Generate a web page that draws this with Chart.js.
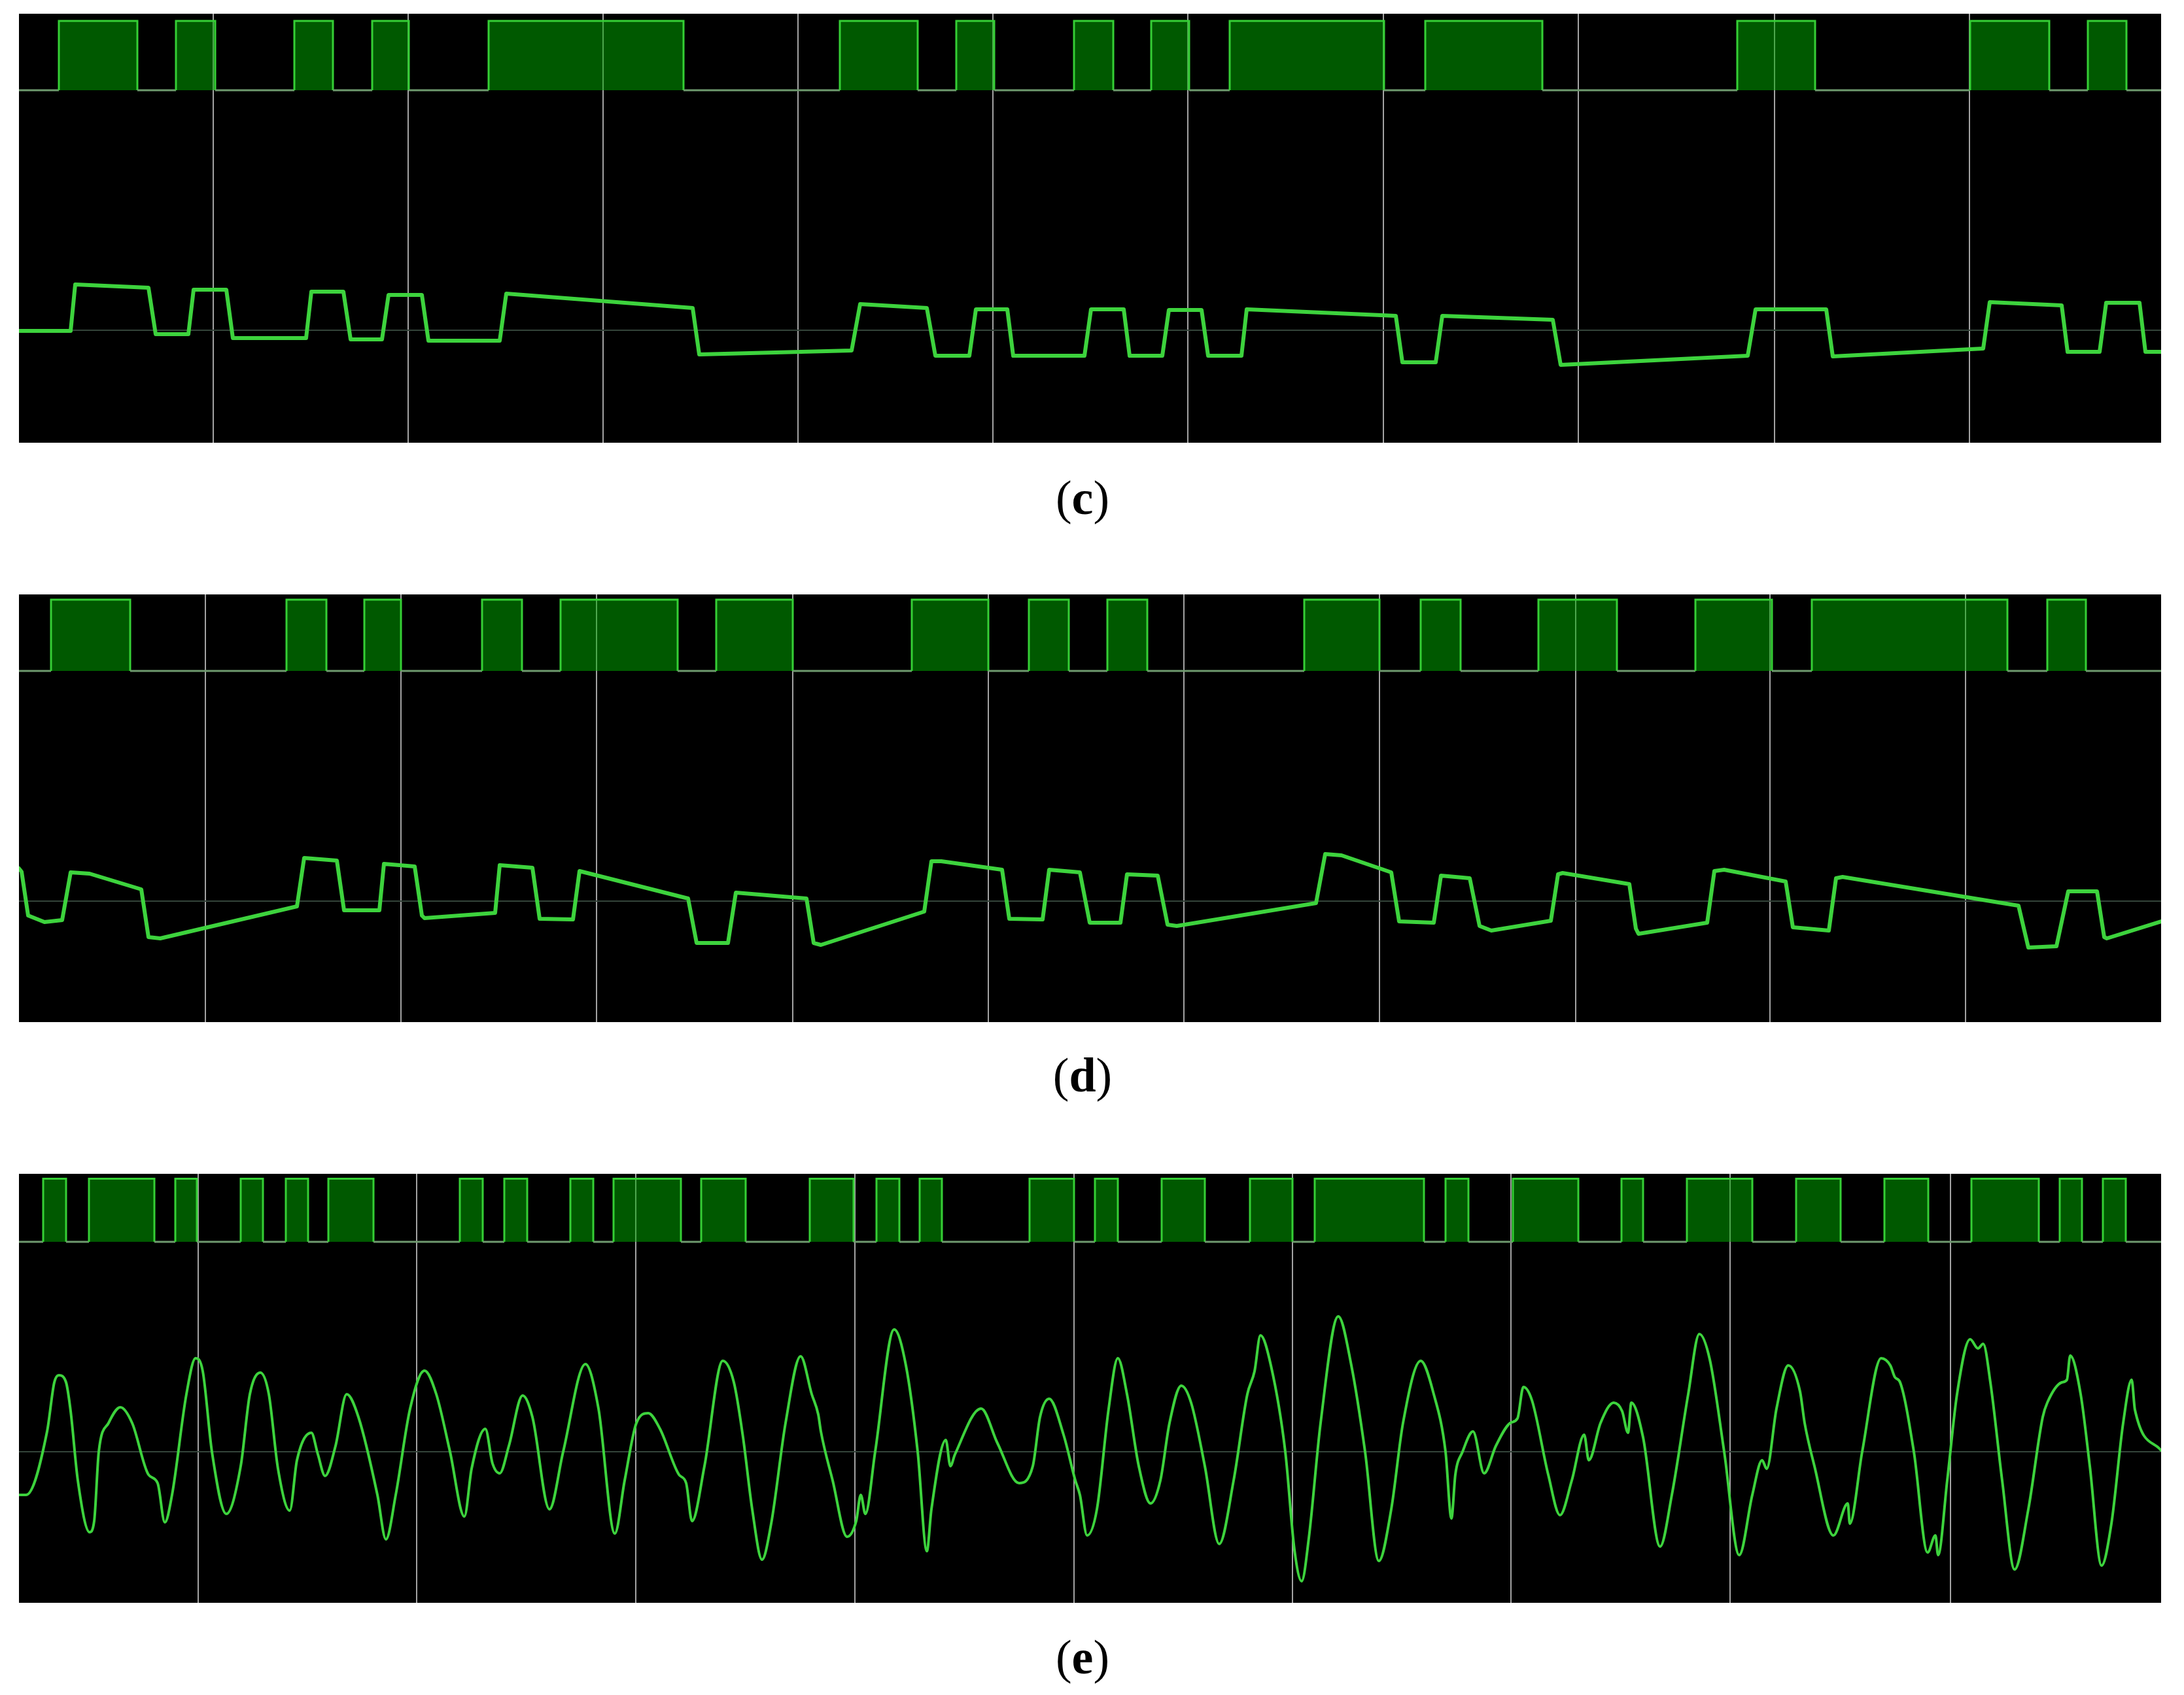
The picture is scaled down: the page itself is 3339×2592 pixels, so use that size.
<!DOCTYPE html>
<html>
<head>
<meta charset="utf-8">
<title>Scope traces (c)-(e)</title>
<script src="https://cdn.jsdelivr.net/npm/chart.js@4.4.1/dist/chart.umd.min.js"></script>
<style>
    html, body { margin: 0; padding: 0; background: #fff; }
    body { width: 3339px; height: 2592px; position: relative; overflow: hidden; }
    .panel { position: absolute; left: 29px; width: 3275px; background: #000; }
    .panel canvas { display: block; }
    .label {
        position: absolute; left: 1655px; transform: translateX(-50%);
        font-family: "Liberation Serif", "Times New Roman", serif;
        font-size: 74px; line-height: 74px; color: #000; white-space: nowrap;
    }
</style>
</head>
<body>
<div class="panel" style="top:21px;height:656px"><canvas id="chartC" width="3275" height="656"></canvas></div>
<div class="label" style="top:724px">(<b>c</b>)</div>
<div class="panel" style="top:909px;height:654px"><canvas id="chartD" width="3275" height="654"></canvas></div>
<div class="label" style="top:1607px">(<b>d</b>)</div>
<div class="panel" style="top:1795px;height:656px"><canvas id="chartE" width="3275" height="656"></canvas></div>
<div class="label" style="top:2497px">(<b>e</b>)</div>

<script>
// Time axis in samples (0..3275 across the screen), analog in counts from the centre line

// ---- panel (c)
const cGrid = [297, 595, 893, 1191, 1489, 1787, 2086, 2384, 2684, 2982];
const cRise = [61, 240, 421, 540, 718, 1255, 1433, 1613, 1731, 1851, 2150, 2627, 2983, 3163];
const cFall = [181, 300, 480, 596, 1016, 1374, 1491, 1673, 1789, 2087, 2329, 2746, 3104, 3222];
const cTraceT = [0, 79, 86, 198, 209, 259, 267, 317, 327, 439, 447, 496, 507, 555, 565, 616, 626, 735, 745, 1030,
    1040, 1273, 1286, 1388, 1401, 1453, 1463, 1511, 1520, 1629, 1639, 1689, 1698, 1748, 1758, 1808, 1818, 1869, 1877, 2105,
    2115, 2166, 2176, 2345, 2357, 2643, 2655, 2763, 2773, 3003, 3013, 3123, 3132, 3181, 3191, 3242, 3251, 3275];
const cTraceV = [-1, -1, 70, 65, -6, -6, 62, 62, -12, -12, 59, 59, -14, -14, 54, 54, -16, -16, 56, 34,
    -37, -31, 40, 34, -39, -39, 32, 32, -39, -39, 32, 32, -39, -39, 31, 31, -39, -39, 32, 22,
    -49, -49, 22, 16, -53, -39, 32, 32, -40, -28, 43, 38, -33, -33, 42, 42, -33, -33];

// ---- panel (d)
const dGrid = [285, 584, 883, 1183, 1482, 1781, 2080, 2380, 2677, 2976];
const dRise = [49, 409, 528, 708, 828, 1066, 1365, 1544, 1664, 1965, 2143, 2323, 2563, 2741, 3101];
const dFall = [170, 470, 584, 769, 1007, 1183, 1482, 1605, 1725, 2080, 2204, 2443, 2680, 3040, 3160];
const dTraceT = [0, 4, 14, 39, 66, 79, 108, 187, 198, 216, 425, 436, 486, 497, 551, 558, 605, 616, 620, 728,
    735, 785, 796, 847, 857, 1023, 1036, 1084, 1096, 1204, 1215, 1226, 1384, 1395, 1410, 1503, 1514, 1565, 1575, 1622,
    1637, 1684, 1694, 1741, 1756, 1770, 1983, 1997, 2022, 2098, 2110, 2163, 2174, 2218, 2233, 2251, 2342, 2353, 2360, 2462,
    2472, 2476, 2581, 2592, 2607, 2701, 2712, 2767, 2778, 2788, 3057, 3072, 3115, 3133, 3177, 3188, 3192, 3275];
const dTraceV = [50, 45, -22, -32, -29, 44, 42, 18, -55, -57, -8, 66, 62, -14, -14, 57, 53, -22, -26, -18,
    55, 51, -27, -28, 46, 4, -64, -64, 13, 4, -64, -67, -16, 61, 61, 48, -27, -28, 48, 44,
    -33, -33, 41, 39, -36, -38, -3, 72, 70, 44, -31, -33, 39, 35, -38, -45, -30, 41, 43, 26,
    -42, -50, -33, 46, 48, 30, -40, -45, 35, 37, -7, -71, -69, 15, 15, -55, -57, -31];

// ---- panel (e)
const eGrid = [274, 608, 943, 1278, 1613, 1947, 2281, 2616, 2953];
const eRise = [37, 107, 239, 339, 408, 473, 674, 742, 843, 909, 1043, 1209, 1311, 1377, 1545, 1645, 1747, 1882,
    1981, 2181, 2284, 2450, 2550, 2717, 2852, 2985, 3120, 3186];
const eFall = [72, 207, 272, 373, 442, 542, 709, 777, 878, 1012, 1111, 1276, 1346, 1411, 1613, 1680, 1813, 1947,
    2148, 2216, 2384, 2483, 2650, 2785, 2919, 3088, 3154, 3221];
const eTraceT = [0, 11, 43, 54, 61, 72, 79, 90, 108, 115, 122, 137, 155, 173, 198, 212, 223, 234, 256, 270,
    281, 295, 317, 339, 353, 369, 382, 396, 414, 425, 447, 457, 468, 484, 501, 519, 548, 561, 576, 598,
    620, 638, 659, 681, 692, 713, 724, 735, 749, 770, 785, 811, 832, 866, 886, 911, 926, 944, 962, 980,
    1009, 1020, 1029, 1048, 1076, 1093, 1107, 1121, 1136, 1150, 1172, 1195, 1212, 1222, 1226, 1244, 1266, 1280, 1287, 1294,
    1309, 1338, 1356, 1374, 1388, 1395, 1417, 1424, 1431, 1471, 1496, 1529, 1550, 1561, 1575, 1597, 1615, 1622, 1633, 1648,
    1666, 1680, 1694, 1712, 1730, 1745, 1759, 1777, 1792, 1813, 1835, 1857, 1878, 1889, 1898, 1914, 1936, 1950, 1961, 1972,
    1990, 2017, 2037, 2058, 2079, 2098, 2116, 2143, 2163, 2181, 2190, 2196, 2207, 2223, 2240, 2258, 2280, 2291, 2300, 2313,
    2338, 2356, 2374, 2393, 2400, 2418, 2438, 2451, 2460, 2465, 2483, 2509, 2527, 2552, 2569, 2585, 2607, 2630, 2650, 2665,
    2672, 2687, 2705, 2723, 2730, 2745, 2774, 2796, 2799, 2818, 2847, 2861, 2868, 2876, 2897, 2918, 2930, 2934, 2948, 2963,
    2983, 2995, 3003, 3014, 3032, 3051, 3072, 3094, 3101, 3123, 3131, 3136, 3152, 3166, 3184, 3199, 3217, 3230, 3235, 3275];
const eTraceV = [-66, -66, 31, 106, 117, 106, 62, -44, -123, -106, 0, 44, 68, 44, -35, -48, -108, -66, 88, 143,
    123, 0, -95, -22, 88, 121, 88, -26, -90, -13, 29, -4, -37, 9, 88, 53, -66, -134, -66, 66,
    124, 88, 0, -99, -26, 35, -18, -33, 9, 86, 53, -88, 0, 134, 66, -125, -44, 44, 59, 35,
    -35, -48, -106, -22, 139, 106, 22, -88, -165, -110, 44, 146, 88, 57, 31, -44, -130, -106, -66, -95,
    0, 187, 132, 0, -152, -88, 18, -22, -4, 66, 13, -48, -22, 53, 81, 26, -44, -66, -128, -88,
    66, 143, 88, -22, -79, -44, 44, 101, 75, -22, -141, -44, 88, 123, 178, 132, 0, -150, -198, -132,
    44, 207, 132, 0, -167, -88, 44, 139, 88, 0, -102, -35, 0, 31, -33, 9, 44, 51, 99, 79,
    -35, -97, -44, 26, -13, 44, 75, 62, 29, 75, 22, -145, -66, 88, 180, 141, 0, -158, -66, -13,
    -26, 66, 132, 92, 44, -22, -128, -79, -110, 0, 143, 132, 114, 106, 0, -154, -128, -158, -44, 88,
    172, 158, 165, 106, -44, -180, -88, 53, 75, 106, 110, 147, 88, -22, -174, -110, 44, 110, 64, 2];

const SPAN = 3275;
const GRID_COLOR = '#a3a3a3';
const CENTRE_COLOR = '#34443a';
const TRACE_COLOR = '#3dd33d';
const HIGH_COLOR = '#35cf35';
const LOW_COLOR = '#6f9a6f';
const FILL_COLOR = 'rgba(0, 170, 0, 0.52)';

// Build the stepped logic channel from its edge times
function digitalPoints(rise, fall) {
    const pts = [{ x: 0, y: 0 }];
    rise.forEach((r, i) => {
        pts.push({ x: r, y: 0 }, { x: r, y: 1 }, { x: fall[i], y: 1 }, { x: fall[i], y: 0 });
    });
    pts.push({ x: SPAN, y: 0 });
    return pts;
}

function tracePoints(t, v) {
    return t.map((x, i) => ({ x: x, y: v[i] }));
}

function makePanel(id, grid, rise, fall, t, v, analogRange, logicRange, smooth, width) {
    const ctx = document.getElementById(id).getContext('2d');
    return new Chart(ctx, {
        type: 'line',
        data: {
            datasets: [{
                label: 'analog',
                data: tracePoints(t, v),
                yAxisID: 'y',
                borderColor: TRACE_COLOR,
                borderWidth: width,
                borderJoinStyle: 'round',
                borderCapStyle: 'round',
                pointRadius: 0,
                fill: false,
                tension: smooth ? 0.4 : 0,
                cubicInterpolationMode: smooth ? 'monotone' : 'default',
                order: 0
            }, {
                label: 'logic',
                data: digitalPoints(rise, fall),
                yAxisID: 'y2',
                borderColor: HIGH_COLOR,
                borderWidth: 3,
                pointRadius: 0,
                tension: 0,
                fill: { value: 0 },
                backgroundColor: FILL_COLOR,
                segment: {
                    borderColor: c => (c.p0.parsed.y === 0 && c.p1.parsed.y === 0) ? LOW_COLOR : HIGH_COLOR
                },
                order: 1
            }]
        },
        options: {
            responsive: false,
            maintainAspectRatio: false,
            animation: false,
            devicePixelRatio: 1,
            layout: { padding: 0 },
            plugins: {
                legend: { display: false },
                tooltip: { enabled: false }
            },
            scales: {
                x: {
                    type: 'linear',
                    min: 0,
                    max: SPAN,
                    afterBuildTicks: s => { s.ticks = grid.map(g => ({ value: g })); },
                    ticks: { display: false },
                    grid: { color: GRID_COLOR, lineWidth: 2, drawTicks: false },
                    border: { display: false }
                },
                y: {
                    type: 'linear',
                    min: analogRange[0],
                    max: analogRange[1],
                    afterBuildTicks: s => { s.ticks = [{ value: 0 }]; },
                    ticks: { display: false },
                    grid: { color: CENTRE_COLOR, lineWidth: 2, drawTicks: false },
                    border: { display: false }
                },
                y2: {
                    type: 'linear',
                    display: false,
                    min: logicRange[0],
                    max: logicRange[1]
                }
            }
        }
    });
}

const chartC = makePanel('chartC', cGrid, cRise, cFall, cTraceT, cTraceV, [-172, 484], [-5.085, 1.104], false, 6);
const chartD = makePanel('chartD', dGrid, dRise, dFall, dTraceT, dTraceV, [-185, 469], [-4.927, 1.073], false, 6);
const chartE = makePanel('chartE', eGrid, eRise, eFall, eTraceT, eTraceV, [-231, 425], [-5.72, 1.078], true, 4);
</script>
</body>
</html>
